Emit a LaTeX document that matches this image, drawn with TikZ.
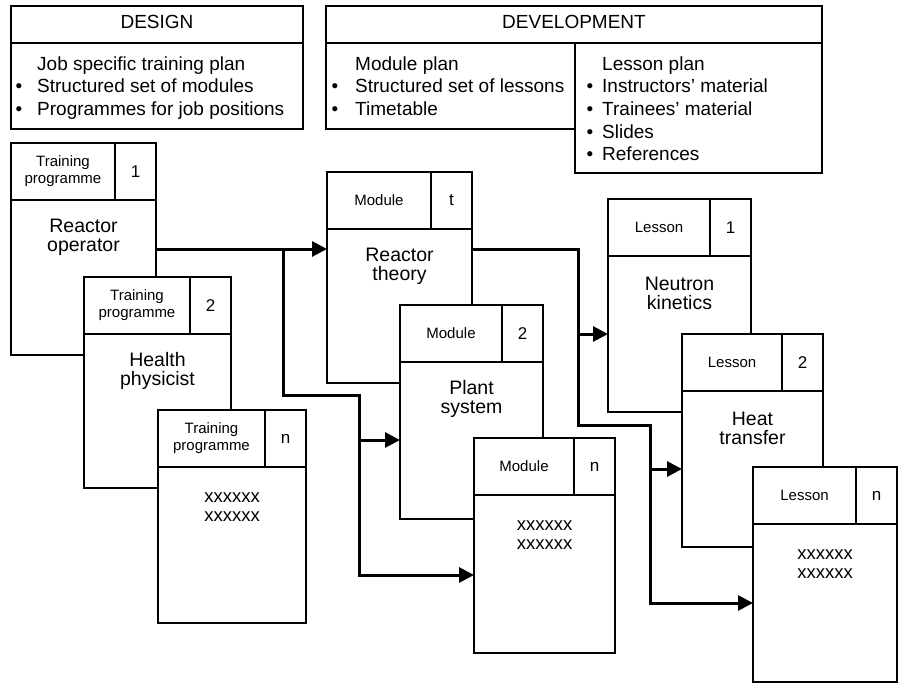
\documentclass[tikz,border=0pt]{standalone}
\usepackage{fontspec}
\setmainfont{Liberation Sans}
\usetikzlibrary{arrows.meta,calc}
\newcommand\blt[1]{\llap{\textbullet\hspace{#1}}}
% #1 name, #2 x, #3 y, #4 w, #5 h, #6 label, #7 number, #8 body, #9 body style
\newcommand\mkcard[9]{%
  \node[card, minimum width=#4pt, minimum height=#5pt, anchor=north west] (#1) at (#2,-#3) {};
  \draw[cardline] ([yshift=-57pt]#1.north west) -- ([yshift=-57pt]#1.north east);
  \draw[cardline] ([xshift=-41pt]#1.north east) -- ([xshift=-41pt,yshift=-57pt]#1.north east);
  \node[hdrlab] (#1-lab) at ({#2+(#4-41)/2},{-#3-28.5}) {#6};
  \node[hdrnum] (#1-num) at ({#2+#4-20.5},{-#3-28.5}) {#7};
  \node[#9] (#1-body) at ({#2+#4/2},{-#3-57-37}) {#8};
}
\begin{document}
\begin{tikzpicture}[x=1pt,y=1pt,
  card/.style={draw, fill=white, line width=1.8pt, inner sep=0pt, outer sep=0pt},
  cardline/.style={line width=1.8pt},
  boxline/.style={line width=1.5pt},
  conn/.style={line width=3pt, -{Triangle[length=15pt,width=15pt]}},
  connline/.style={line width=3pt},
  hdrlab/.style={font=\fontsize{15}{17}\selectfont, align=center, inner sep=0pt},
  hdrnum/.style={font=\fontsize{17}{17}\selectfont, inner sep=0pt},
  bodytxt/.style={font=\fontsize{19.5}{19}\selectfont, align=center, inner sep=0pt},
  xtxt/.style={font=\fontsize{18.5}{19.5}\selectfont, align=center, inner sep=0pt, yshift=-3pt},
  txt/.style={font=\fontsize{19}{22.7}\selectfont, inner sep=0pt, anchor=base west},
  ttl/.style={font=\fontsize{19}{22.7}\selectfont, inner sep=0pt, anchor=base}
]
\useasboundingbox (0,0) rectangle (903,-689);
\fill[white] (0,0) rectangle (903,-689);

% ---- DESIGN box
\draw[boxline] (11,-6) rectangle (303,-129);
\draw[boxline] (11,-43) -- (303,-43);
\node[ttl] (design) at (157,-28.5) {DESIGN};
\node[txt] (d1) at (37,-70) {Job specific training plan};
\node[txt] (d2) at (37,-92.7) {\blt{15pt}Structured set of modules};
\node[txt] (d3) at (37,-115.4) {\blt{15pt}Programmes for job positions};

% ---- DEVELOPMENT box
\draw[boxline] (326,-6) rectangle (822,-43);
\draw[boxline] (326,-43) rectangle (575,-129);
\draw[boxline] (575,-43) rectangle (822,-173);
\node[ttl] (devel) at (574,-28.5) {DEVELOPMENT};
\node[txt] (m1t) at (355,-70) {Module plan};
\node[txt] (m2t) at (355,-92.7) {\blt{17pt}Structured set of lessons};
\node[txt] (m3t) at (355,-115.4) {\blt{17pt}Timetable};
\node[txt] (l1t) at (602,-70) {Lesson plan};
\node[txt] (l2t) at (602,-92.7) {\blt{9pt}Instructors' material};
\node[txt] (l3t) at (602,-115.4) {\blt{9pt}Trainees' material};
\node[txt] (l4t) at (602,-138.1) {\blt{9pt}Slides};
\node[txt] (l5t) at (602,-160.8) {\blt{9pt}References};

% ---- cards
\mkcard{tp1}{11}{143}{145}{212}{Training\\programme}{1}{Reactor\\operator}{bodytxt}
\mkcard{tp2}{84}{277}{147}{211}{Training\\programme}{2}{Health\\physicist}{bodytxt}
\mkcard{tpn}{158}{410}{148}{213}{Training\\programme}{n}{xxxxxx\\xxxxxx}{xtxt}
\mkcard{m1}{327}{172}{145}{211}{Module}{t}{Reactor\\theory}{bodytxt}
\mkcard{m2}{400}{305}{143}{214}{Module}{2}{Plant\\system}{bodytxt}
\mkcard{mn}{474}{438}{141}{215}{Module}{n}{xxxxxx\\xxxxxx}{xtxt}
\mkcard{l1}{608}{199}{143}{213}{Lesson}{1}{Neutron\\kinetics}{bodytxt}
\mkcard{l2}{682}{334}{141}{213}{Lesson}{2}{Heat\\transfer}{bodytxt}
\mkcard{ln}{753}{467}{144}{215}{Lesson}{n}{xxxxxx\\xxxxxx}{xtxt}

% ---- connectors: programmes -> modules
\coordinate (m1in) at (m1.west |- tp1.east);
\coordinate (j1) at (283,-249);
\coordinate (j2) at (283,-395);
\coordinate (j3) at (359,-395);
\coordinate (m2in) at (m2.west |- 0,-440);
\coordinate (mnin) at (mn.west |- 0,-575);
\draw[conn] (tp1.east) -- (m1in);
\draw[conn] (j1) -- (j2) -- (j3) |- (mnin);
\draw[conn] (j3 |- m2in) -- (m2in);

% ---- connectors: modules -> lessons
\coordinate (m1out) at (m1.east |- tp1.east);
\coordinate (k1) at (578,-249);
\coordinate (k2) at (578,-425);
\coordinate (k3) at (650,-425);
\coordinate (l1in) at (l1.west |- 0,-334);
\coordinate (l2in) at (l2.west |- 0,-469);
\coordinate (lnin) at (ln.west |- 0,-603);
\draw[conn] (m1out) -- (k1) -- (k2) -- (k3) |- (lnin);
\draw[conn] (k1 |- l1in) -- (l1in);
\draw[conn] (k3 |- l2in) -- (l2in);
\end{tikzpicture}
\end{document}
